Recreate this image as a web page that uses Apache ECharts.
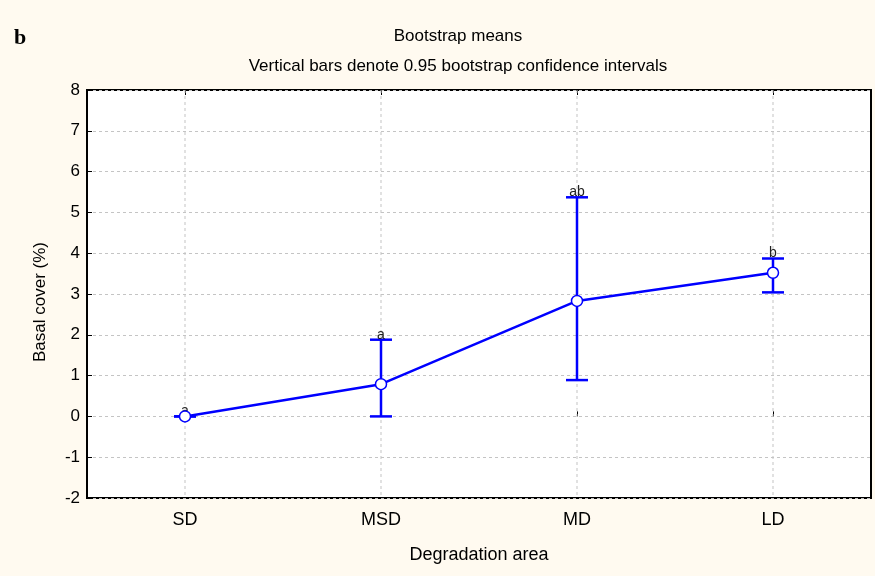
<!DOCTYPE html>
<html>
<head>
<meta charset="utf-8">
<script src="https://cdn.jsdelivr.net/npm/echarts@6/dist/echarts.min.js"></script>
<style>
  html, body { margin: 0; padding: 0; background: #FFFAF0; }
  #chart { width: 875px; height: 576px; }
</style>
</head>
<body>
<div id="chart"></div>
<script>
// Basal cover by degradation area: bootstrap means with 0.95 CIs
const categories = ['SD', 'MSD', 'MD', 'LD'];
const means = [0.0, 0.79, 2.83, 3.52];
const ciLower = [0.0, 0.0, 0.89, 3.04];
const ciUpper = [0.0, 1.88, 5.37, 3.87];
const groupLetters = ['a', 'a', 'ab', 'b'];
const yTicks = [-2, -1, 0, 1, 2, 3, 4, 5, 6, 7, 8];

const BLUE = '#0000FF';
const GRIDC = '#c4c4c4';
const sans = "Arial, 'Liberation Sans', sans-serif";

const errorData = categories.map((c, i) => [i, ciLower[i], ciUpper[i]]);
const guideData = categories.map((c, i) => [i]);

const chart = echarts.init(document.getElementById('chart'));
chart.setOption({
  backgroundColor: '#FFFAF0',
  animation: false,
  title: [
    {
      text: 'Bootstrap means',
      left: 453, top: 23, textAlign: 'center',
      textStyle: { fontFamily: sans, fontSize: 17, fontWeight: 'normal', color: '#000' }
    },
    {
      text: 'Vertical bars denote 0.95 bootstrap confidence intervals',
      left: 453, top: 53, textAlign: 'center',
      textStyle: { fontFamily: sans, fontSize: 17, fontWeight: 'normal', color: '#000' }
    },
    {
      text: 'b',
      left: 9, top: 22,
      textStyle: { fontFamily: "'Liberation Serif', 'Times New Roman', serif", fontSize: 22, fontWeight: 'bold', color: '#000' }
    }
  ],
  graphic: [
    {
      type: 'text', x: 40, y: 302, rotation: Math.PI / 2,
      style: {
        text: 'Basal cover (%)', align: 'center', verticalAlign: 'middle',
        font: "17px Arial, 'Liberation Sans', sans-serif", fill: '#000'
      }
    }
  ],
  grid: {
    left: 87, right: 4, top: 90, bottom: 78,
    show: true, backgroundColor: '#fff', borderColor: '#000', borderWidth: 2
  },
  xAxis: [
    {
      type: 'category', data: categories, boundaryGap: true,
      name: 'Degradation area', nameLocation: 'middle', nameGap: 48,
      nameTextStyle: { fontFamily: sans, fontSize: 18, color: '#000' },
      axisLine: { show: false },
      axisTick: { show: true, inside: true, alignWithLabel: true, length: 5, lineStyle: { color: '#000', width: 1 } },
      axisLabel: { fontFamily: sans, fontSize: 18, color: '#000', margin: 13 },
      splitLine: { show: false }
    },
    {
      type: 'category', data: categories, boundaryGap: true, position: 'top',
      axisLine: { show: false },
      axisTick: { show: true, inside: true, alignWithLabel: true, length: 5, lineStyle: { color: '#000', width: 1 } },
      axisLabel: { show: false },
      splitLine: { show: false }
    }
  ],
  yAxis: {
    type: 'value', min: -2, max: 8, interval: 1,
    axisLine: { show: false },
    axisTick: { show: true, inside: true, length: 5, lineStyle: { color: '#000', width: 1 } },
    axisLabel: {
      fontFamily: sans, fontSize: 17, color: '#000', margin: 7,
      formatter: v => (yTicks.includes(v) ? String(v) : '')
    },
    splitLine: { show: true, lineStyle: { color: GRIDC, type: [3, 3], width: 1 } }
  },
  series: [
    {
      // vertical dashed guides through each category
      type: 'custom', z: 1, silent: true,
      data: guideData,
      renderItem: function (params, api) {
        const top = api.coord([api.value(0), 8]);
        const bot = api.coord([api.value(0), -2]);
        return {
          type: 'line',
          shape: { x1: top[0], y1: top[1], x2: bot[0], y2: bot[1] },
          style: { stroke: GRIDC, lineWidth: 1, lineDash: [3, 3] }
        };
      }
    },
    {
      type: 'custom', z: 3,
      data: errorData,
      renderItem: function (params, api) {
        const x = api.value(0);
        const lo = api.coord([x, api.value(1)]);
        const hi = api.coord([x, api.value(2)]);
        const half = 11;
        const style = { stroke: BLUE, lineWidth: 2.5 };
        return {
          type: 'group',
          children: [
            { type: 'line', shape: { x1: hi[0], y1: hi[1], x2: lo[0], y2: lo[1] }, style },
            { type: 'line', shape: { x1: hi[0] - half, y1: hi[1], x2: hi[0] + half, y2: hi[1] }, style },
            { type: 'line', shape: { x1: lo[0] - half, y1: lo[1], x2: lo[0] + half, y2: lo[1] }, style },
            {
              type: 'text',
              style: {
                text: groupLetters[params.dataIndex],
                x: hi[0], y: hi[1] + 2,
                align: 'center', verticalAlign: 'bottom',
                fill: '#222', font: "14px Arial, 'Liberation Sans', sans-serif"
              },
              z2: 10
            }
          ]
        };
      }
    },
    {
      type: 'line', z: 4,
      data: means,
      symbol: 'circle', symbolSize: 11,
      lineStyle: { color: BLUE, width: 2.5 },
      itemStyle: { color: '#fff', borderColor: BLUE, borderWidth: 1.5 }
    }
  ]
});
</script>
</body>
</html>
